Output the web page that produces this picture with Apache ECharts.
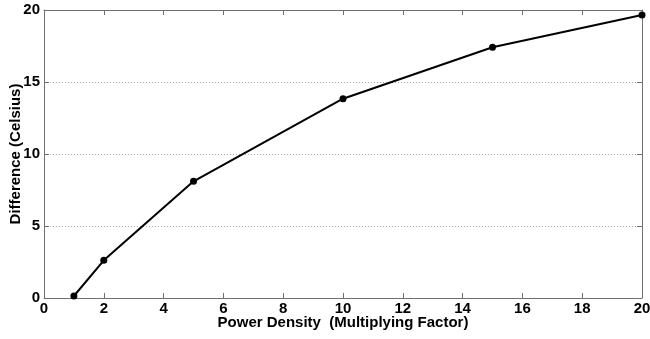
<!DOCTYPE html>
<html>
<head>
<meta charset="utf-8">
<script src="https://cdn.jsdelivr.net/npm/echarts@6/dist/echarts.min.js"></script>
<style>
  html, body { margin: 0; padding: 0; background: #fff; }
  #chart { width: 650px; height: 339px; }
</style>
</head>
<body>
<div id="chart"></div>
<script>
const powerFactors = [1, 2, 5, 10, 15, 20];
const tempDiffs = [0.14, 2.62, 8.1, 13.84, 17.41, 19.65];

const font = 'Liberation Sans, Arial, sans-serif';
const axisGray = '#707070';

const chart = echarts.init(document.getElementById('chart'));

// box frame: the top and right axes only draw the line and the inside ticks
const frameLine = {show: true, onZero: false, lineStyle: {color: axisGray, width: 1}};
const frameTick = {show: true, inside: true, length: 5, lineStyle: {color: axisGray}};

const option = {
    animation: false,
    grid: {left: 44, right: 8, top: 10, bottom: 41, outerBoundsMode: 'none', containLabel: false},
    xAxis: [{
        type: 'value', min: 0, max: 20, interval: 2,
        name: 'Power Density  (Multiplying Factor)',
        nameLocation: 'middle', nameGap: 17, nameMoveOverlap: false,
        nameTextStyle: {color: '#000', fontWeight: 'bold', fontSize: 15, fontFamily: font},
        axisLine: frameLine,
        axisTick: frameTick,
        splitLine: {show: false},
        axisLabel: {color: '#000', fontWeight: 'bold', fontSize: 15, fontFamily: font, margin: 3}
    }, {
        type: 'value', min: 0, max: 20, interval: 2, position: 'top',
        axisLine: frameLine,
        axisTick: frameTick,
        splitLine: {show: false},
        axisLabel: {show: false}
    }],
    yAxis: [{
        type: 'value', min: 0, max: 20, interval: 5,
        name: 'Difference (Celsius)',
        nameLocation: 'middle', nameGap: 21, nameMoveOverlap: false,
        nameTextStyle: {color: '#000', fontWeight: 'bold', fontSize: 15, fontFamily: font},
        axisLine: frameLine,
        axisTick: frameTick,
        axisLabel: {color: '#000', fontWeight: 'bold', fontSize: 15, fontFamily: font, margin: 4},
        // dotted grid at 5, 10, 15 only
        splitLine: {show: true, showMinLine: false, showMaxLine: false,
            lineStyle: {color: '#a8a8a8', type: [1, 2], width: 1}}
    }, {
        type: 'value', min: 0, max: 20, interval: 5, position: 'right',
        axisLine: frameLine,
        axisTick: frameTick,
        splitLine: {show: false},
        axisLabel: {show: false}
    }],
    series: [{
        type: 'line',
        data: powerFactors.map((x, i) => [x, tempDiffs[i]]),
        symbol: 'circle',
        symbolSize: 7,
        lineStyle: {color: '#000', width: 2},
        itemStyle: {color: '#000'}
    }]
};

chart.setOption(option);
</script>
</body>
</html>
